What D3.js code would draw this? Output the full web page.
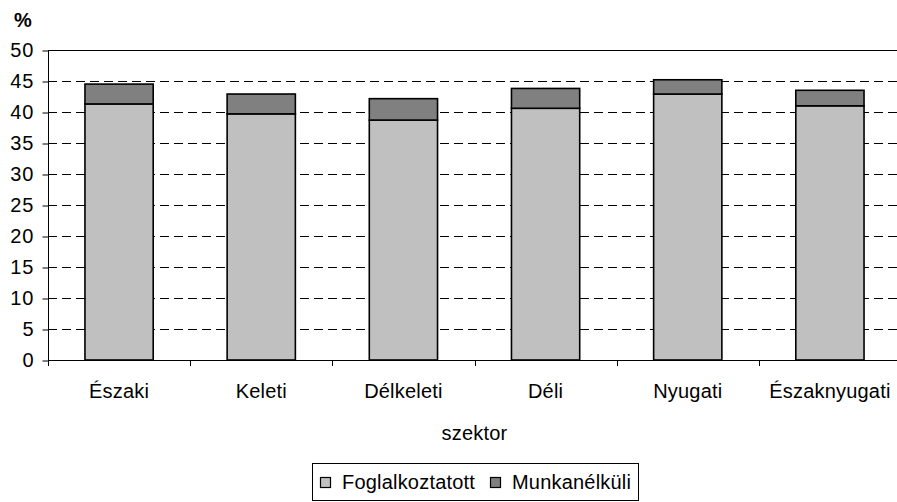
<!DOCTYPE html>
<html>
<head>
<meta charset="utf-8">
<script src="https://cdn.jsdelivr.net/npm/d3@7"></script>
<style>
  body { margin: 0; background: #fff; }
  text { font-family: "Liberation Sans", Arial, sans-serif; fill: #000; }
</style>
</head>
<body>
<div id="chart"></div>
<script>
// Data
var categories = ["Északi", "Keleti", "Délkeleti", "Déli", "Nyugati", "Északnyugati"];
var foglalkoztatott = [41.3, 39.7, 38.7, 40.6, 42.9, 41.0];
var munkanelkuli = [3.2, 3.2, 3.45, 3.2, 2.3, 2.5];
var seriesNames = ["Foglalkoztatott", "Munkanélküli"];
var seriesColors = ["#c0c0c0", "#808080"];
var yTicks = [0, 5, 10, 15, 20, 25, 30, 35, 40, 45, 50];

var svgWidth = 897;
var svgHeight = 502;
var plot = { left: 48, right: 901, top: 50, bottom: 360 };

var svg = d3.select("#chart")
    .append("svg")
    .attr("width", svgWidth)
    .attr("height", svgHeight);

var xScale = d3.scaleBand()
    .domain(categories)
    .range([plot.left, plot.right])
    .paddingInner(0.52)
    .paddingOuter(0.26);

var yScale = d3.scaleLinear()
    .domain([0, 50])
    .range([plot.bottom, plot.top]);

// Gridlines (top one solid, others dashed)
svg.append("g")
    .selectAll("line")
    .data(yTicks.filter(d => d > 0))
    .enter()
    .append("line")
    .attr("x1", plot.left)
    .attr("x2", svgWidth)
    .attr("y1", d => Math.round(yScale(d)) + 0.5)
    .attr("y2", d => Math.round(yScale(d)) + 0.5)
    .attr("stroke", "#000")
    .attr("stroke-width", 1)
    .attr("stroke-dasharray", d => d === 50 ? null : "9,5");

// Stacked bars
var rows = categories.map((c, i) => ({
    cat: c,
    Foglalkoztatott: foglalkoztatott[i],
    "Munkanélküli": munkanelkuli[i]
}));
var stacked = d3.stack().keys(seriesNames)(rows);

svg.append("g")
    .selectAll("g")
    .data(stacked)
    .enter()
    .append("g")
    .attr("fill", (d, i) => seriesColors[i])
    .selectAll("rect")
    .data(d => d)
    .enter()
    .append("rect")
    .attr("x", d => xScale(d.data.cat))
    .attr("y", d => yScale(d[1]))
    .attr("width", xScale.bandwidth())
    .attr("height", d => yScale(d[0]) - yScale(d[1]))
    .attr("stroke", "#000")
    .attr("stroke-width", 1.6);

// Y axis
var leftAxis = d3.axisLeft(yScale)
    .tickValues(yTicks)
    .tickSize(6)
    .tickPadding(8);
var yAxis = svg.append("g")
    .attr("transform", `translate(${plot.left + 0.5}, 0.5)`)
    .call(leftAxis);
yAxis.select(".domain").remove();
yAxis.append("line")
    .attr("x1", 0).attr("x2", 0)
    .attr("y1", plot.top).attr("y2", plot.bottom)
    .attr("stroke", "#000");
yAxis.selectAll(".tick line").attr("stroke", "#000");
yAxis.selectAll(".tick text")
    .style("font-size", "20px")
    .style("letter-spacing", "1px")
    .attr("fill", "#000");

// X axis: line, tick marks at category boundaries, labels centred
var xg = svg.append("g");
xg.append("line")
    .attr("x1", plot.left).attr("x2", svgWidth)
    .attr("y1", plot.bottom + 0.5).attr("y2", plot.bottom + 0.5)
    .attr("stroke", "#000");
xg.selectAll(".xtick")
    .data(d3.range(categories.length + 1))
    .enter()
    .append("line")
    .attr("class", "xtick")
    .attr("x1", i => Math.round(plot.left + i * xScale.step()) + 0.5)
    .attr("x2", i => Math.round(plot.left + i * xScale.step()) + 0.5)
    .attr("y1", plot.bottom)
    .attr("y2", plot.bottom + 6)
    .attr("stroke", "#000");
xg.selectAll(".xlabel")
    .data(categories)
    .enter()
    .append("text")
    .attr("class", "xlabel")
    .attr("x", d => xScale(d) + xScale.bandwidth() / 2)
    .attr("y", 398)
    .attr("text-anchor", "middle")
    .style("font-size", "20px")
    .style("letter-spacing", "0.2px")
    .text(d => d);

// Axis titles
svg.append("text")
    .attr("x", (plot.left + plot.right) / 2)
    .attr("y", 440)
    .attr("text-anchor", "middle")
    .style("font-size", "20px")
    .style("letter-spacing", "0.2px")
    .text("szektor");

svg.append("text")
    .attr("x", 14)
    .attr("y", 27)
    .style("font-size", "20px")
    .style("font-weight", "bold")
    .text("%");

// Legend
var legend = svg.append("g");
legend.append("rect")
    .attr("x", 312.5).attr("y", 463.5)
    .attr("width", 326).attr("height", 37)
    .attr("fill", "#fff")
    .attr("stroke", "#000");
var legendX = [320.5, 490.5];
var items = legend.selectAll(".item")
    .data(seriesNames)
    .enter()
    .append("g")
    .attr("class", "item")
    .attr("transform", (d, i) => `translate(${legendX[i]}, 0)`);
items.append("rect")
    .attr("x", 0).attr("y", 477.5)
    .attr("width", 10).attr("height", 10)
    .attr("fill", (d, i) => seriesColors[i])
    .attr("stroke", "#000")
    .attr("stroke-width", 1.2);
items.append("text")
    .attr("x", 21.5)
    .attr("y", 489)
    .style("font-size", "20px")
    .style("letter-spacing", "0.2px")
    .text(d => d);
</script>
</body>
</html>
